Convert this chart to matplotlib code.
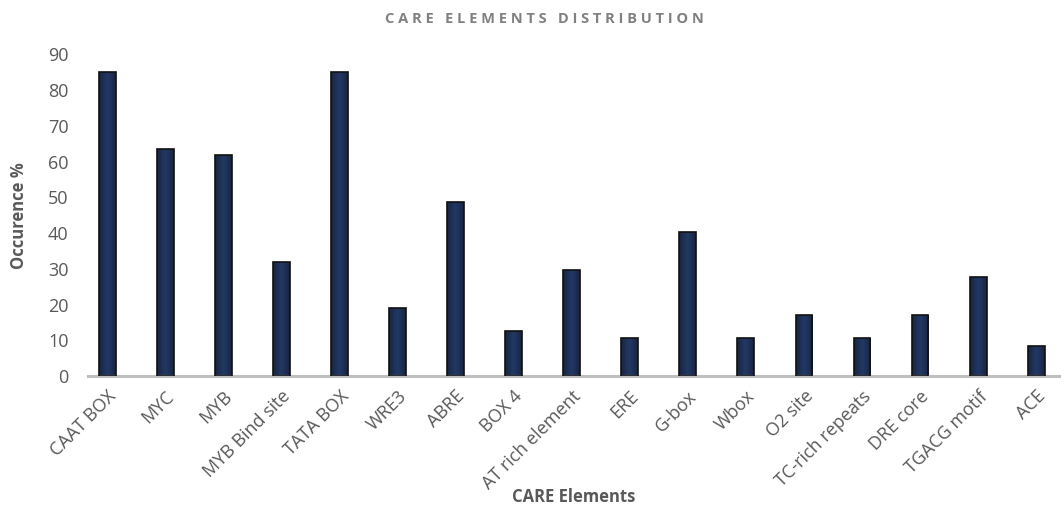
import numpy as np
import matplotlib.pyplot as plt
from matplotlib.colors import LinearSegmentedColormap

# data
elements = ['CAAT BOX', 'MYC', 'MYB', 'MYB Bind site', 'TATA BOX', 'WRE3', 'ABRE',
            'BOX 4', 'AT rich element', 'ERE', 'G-box', 'Wbox', 'O2 site',
            'TC-rich repeats', 'DRE core', 'TGACG motif', 'ACE']
occurence = [85, 63.5, 61.7, 31.9, 85, 19, 48.6, 12.6, 29.6, 10.6, 40.2, 10.6,
             17, 10.6, 17, 27.7, 8.4]
yticks = [0, 10, 20, 30, 40, 50, 60, 70, 80, 90]

plt.rcParams['font.family'] = ['Open Sans', 'DejaVu Sans']

fig = plt.figure(figsize=(10.64, 5.07), dpi=100)
ax = fig.add_axes([0.0827, 0.258, 0.913, 0.635])

x = np.arange(len(elements))
bars = ax.bar(x, occurence, width=0.29, color='#1f2e50', edgecolor='#111111',
              linewidth=1.2, zorder=2)

# subtle horizontal gradient inside each bar (dark sides, bluer middle)
cmap = LinearSegmentedColormap.from_list('bar', ['#18243f', '#223966', '#18243f'])
grad = np.linspace(0, 1, 256).reshape(1, -1)
for b in bars:
    x0, y0 = b.get_x(), b.get_y()
    w, h = b.get_width(), b.get_height()
    im = ax.imshow(grad, cmap=cmap, aspect='auto', extent=[x0, x0 + w, y0, y0 + h],
                   origin='lower', zorder=2.5)
    im.set_clip_path(b)
    b.set_facecolor('none')
    b.set_zorder(3)

ax.set_xlim(-0.33, 16.4)
ax.set_ylim(0, 90)
ax.set_yticks(yticks)
ax.set_xticks(x)
ax.set_xticklabels(elements, rotation=45, ha='right', rotation_mode='anchor')

for s in ['top', 'right', 'left']:
    ax.spines[s].set_visible(False)
ax.spines['bottom'].set_color('#bfbfbf')
ax.spines['bottom'].set_linewidth(2.2)
ax.tick_params(axis='both', length=0, colors='#595959', labelsize=13)
ax.tick_params(axis='x', pad=8)
ax.tick_params(axis='y', pad=14)

ax.set_ylabel('Occurence %', fontsize=12, fontweight='bold', color='#595959', labelpad=14)
fig.text(0.539, 0.002, 'CARE Elements', fontsize=12, fontweight='bold',
         color='#595959', ha='center', va='bottom')
fig.text(0.512, 0.963, 'C A R E   E L E M E N T S   D I S T R I B U T I O N', fontsize=10.5,
         fontweight='bold', color='#808080', ha='center', va='center')

fig.savefig('out.png', dpi=100)
